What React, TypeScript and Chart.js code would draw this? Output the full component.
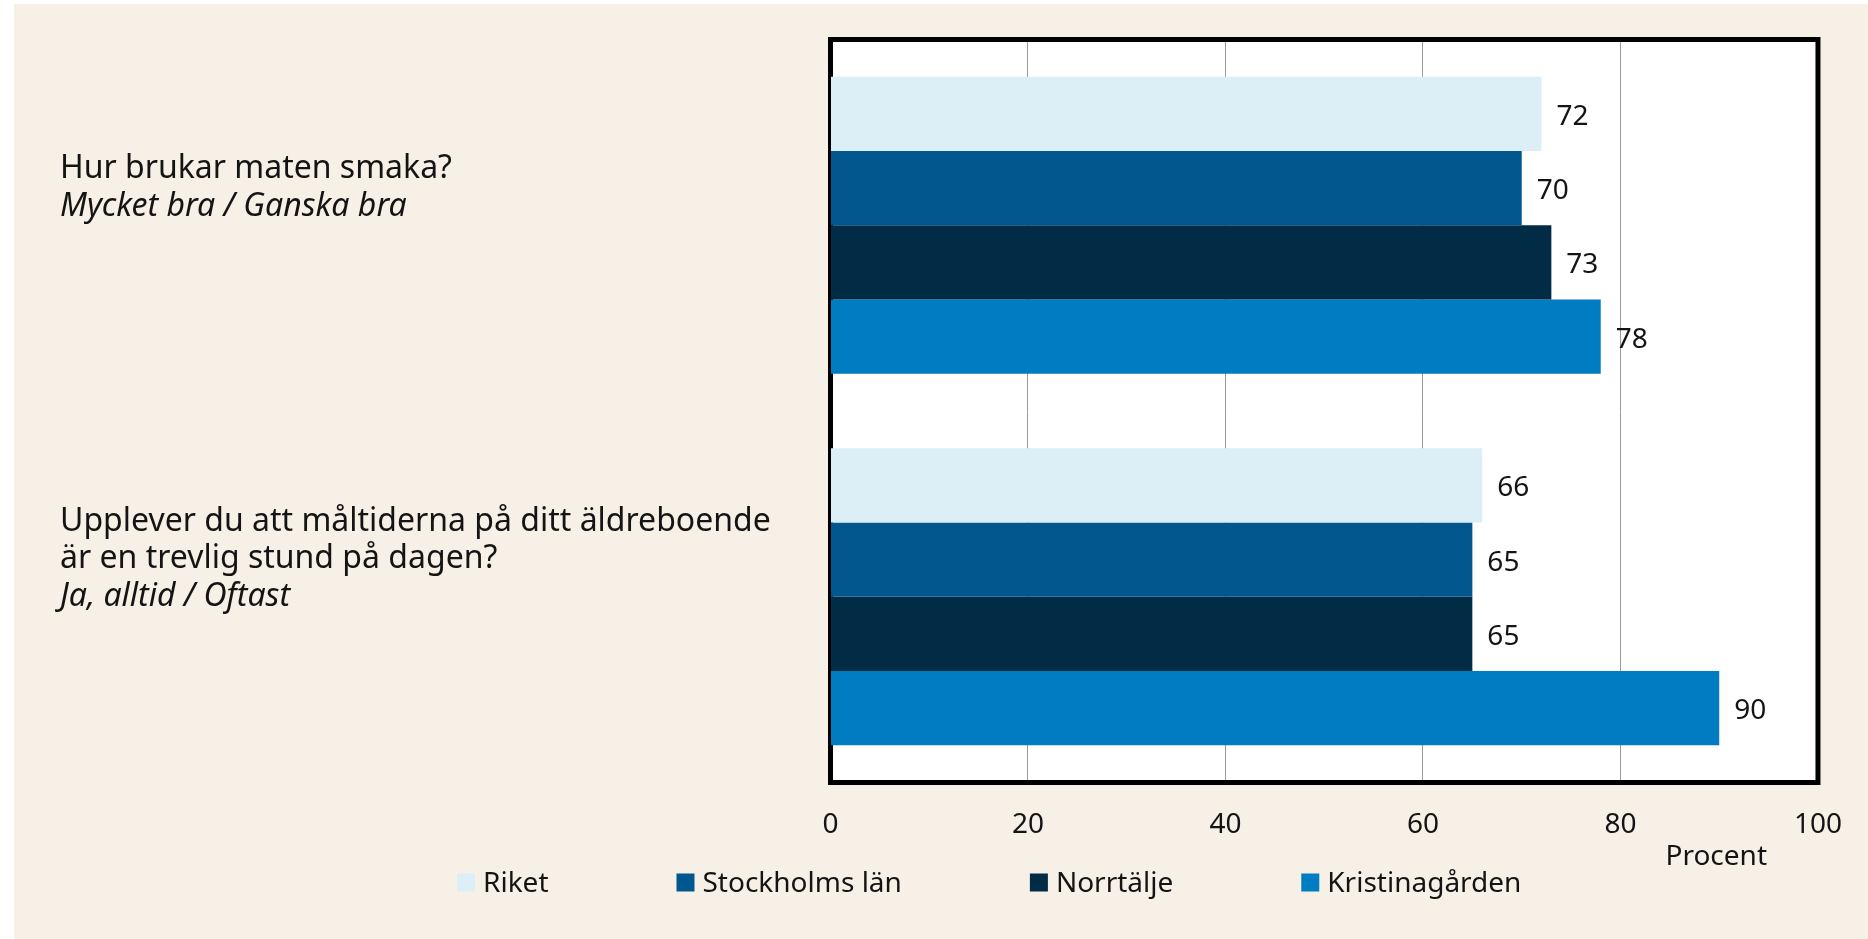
import { useEffect, useRef } from "react";
import { Chart, registerables } from "chart.js";

Chart.register(...registerables);

// ---- data ----
const questionLines: string[][] = [
  ["Hur brukar maten smaka?"],
  ["Upplever du att måltiderna på ditt äldreboende", "är en trevlig stund på dagen?"],
];
const answerLines: string[] = ["Mycket bra / Ganska bra", "Ja, alltid / Oftast"];
const seriesNames: string[] = ["Riket", "Stockholms län", "Norrtälje", "Kristinagården"];
const riket: number[] = [72, 66];
const stockholm: number[] = [70, 65];
const norrtalje: number[] = [73, 65];
const kristina: number[] = [78, 90];
const xMin = 0;
const xMax = 100;
const xStep = 20;
const axisTitle = "Procent";

// ---- styles ----
const FAMILY = "'Noto Sans', 'Open Sans', sans-serif";
const colors = ["#DCEEF6", "#02578E", "#022B45", "#007CC2"];
const TEXT = "#141414";
const CREAM = "#F7F0E7";

const seriesValues = [riket, stockholm, norrtalje, kristina];

const decorPlugin = {
  id: "decor",
  beforeDraw(chart: any) {
    const { ctx, chartArea: a } = chart;
    ctx.save();
    ctx.fillStyle = "#ffffff";
    ctx.fillRect(a.left, a.top, a.right - a.left, a.bottom - a.top);
    ctx.restore();
  },
  beforeDatasetsDraw(chart: any) {
    const { ctx, chartArea: a } = chart;
    ctx.save();
    ctx.strokeStyle = "#000000";
    ctx.lineWidth = 5;
    ctx.lineJoin = "miter";
    ctx.strokeRect(a.left, a.top, a.right - a.left, a.bottom - a.top);
    ctx.restore();
  },
  afterDatasetsDraw(chart: any) {
    const { ctx } = chart;
    ctx.save();
    ctx.font = `28px ${FAMILY}`;
    ctx.fillStyle = TEXT;
    ctx.textAlign = "left";
    ctx.textBaseline = "middle";
    chart.data.datasets.forEach((ds: any, di: number) => {
      const meta = chart.getDatasetMeta(di);
      meta.data.forEach((el: any, i: number) => {
        ctx.fillText(String(ds.data[i]), el.x + 15, el.y + 3);
      });
    });
    ctx.restore();
  },
  afterDraw(chart: any) {
    const { ctx, chartArea: a } = chart;
    const yScale = chart.scales.y;
    ctx.save();
    ctx.fillStyle = TEXT;
    ctx.textAlign = "left";
    ctx.textBaseline = "alphabetic";
    const lh = 37.5;
    questionLines.forEach((q, i) => {
      const lines = [...q.map((t) => ({ t, italic: false })), { t: answerLines[i], italic: true }];
      const center = yScale.getPixelForValue(i) - 28.3;
      const first = center - ((lines.length - 1) / 2) * lh;
      lines.forEach((l, k) => {
        ctx.font = `${l.italic ? "italic " : ""}32px ${FAMILY}`;
        ctx.fillText(l.t, 60, first + k * lh);
      });
    });

    // axis title
    ctx.font = `28px ${FAMILY}`;
    ctx.textAlign = "right";
    ctx.fillText(axisTitle, 1767, a.bottom + 82);

    // legend
    ctx.textAlign = "left";
    let x = 457;
    const baseY = a.bottom + 109;
    seriesNames.forEach((name, i) => {
      ctx.fillStyle = colors[i];
      ctx.fillRect(x, baseY - 18, 18, 18);
      ctx.fillStyle = TEXT;
      ctx.fillText(name, x + 26, baseY);
      x += 26 + ctx.measureText(name).width + 128;
    });
    ctx.restore();
  },
};

export default function App() {
  const ref = useRef<HTMLCanvasElement | null>(null);

  useEffect(() => {
    if (!ref.current) return;
    const chart = new Chart(ref.current, {
      type: "bar",
      data: {
        labels: questionLines.map((q) => q.join(" ")),
        datasets: seriesNames.map((name, i) => ({
          label: name,
          data: seriesValues[i],
          backgroundColor: colors[i],
          borderWidth: 0,
          barPercentage: 1,
          categoryPercentage: 0.8,
        })),
      },
      options: {
        indexAxis: "y",
        responsive: false,
        devicePixelRatio: 1,
        animation: false,
        layout: { padding: { left: 830.5, top: 39.5, right: 50, bottom: 0 } },
        plugins: {
          legend: { display: false },
          tooltip: { enabled: false },
          title: { display: false },
        },
        scales: {
          y: { type: "category", display: false },
          x: {
            type: "linear",
            min: xMin,
            max: xMax,
            position: "bottom",
            border: { display: false },
            grid: { color: "#9a9a9a", lineWidth: 1, drawTicks: false },
            ticks: {
              stepSize: xStep,
              padding: 26,
              color: TEXT,
              font: { family: FAMILY, size: 28 },
            },
            afterFit: (s: any) => {
              s.height = 156.5;
            },
          },
        },
      },
      plugins: [decorPlugin],
    } as any);
    return () => chart.destroy();
  }, []);

  return (
    <div
      style={{
        position: "fixed",
        left: 0,
        top: 0,
        width: 1868,
        height: 939,
        background: "#ffffff",
        overflow: "hidden",
      }}
    >
      <div
        style={{
          position: "absolute",
          left: 14,
          top: 4,
          width: 1854,
          height: 935,
          background: CREAM,
        }}
      />
      <canvas
        ref={ref}
        width={1868}
        height={939}
        style={{ position: "absolute", left: 0, top: 0, width: 1868, height: 939 }}
      />
    </div>
  );
}
